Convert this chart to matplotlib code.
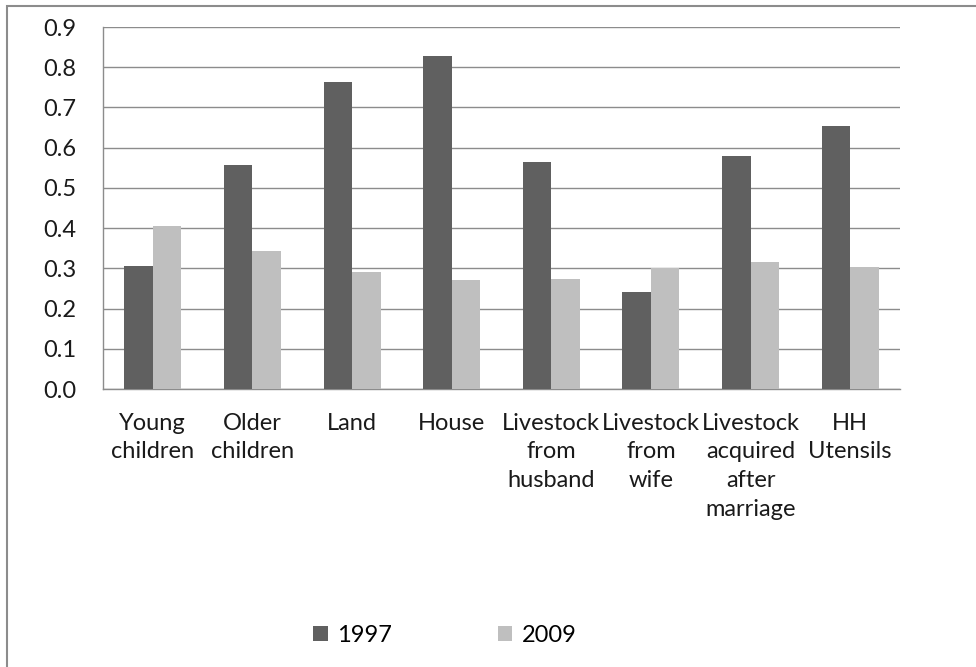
import numpy as np
import matplotlib.pyplot as plt
from matplotlib.patches import Rectangle

plt.rcParams['font.family'] = ['Lato', 'DejaVu Sans']

# ----------------------------------------------------------------------
#   Data
# ----------------------------------------------------------------------
categories = ['Young\nchildren', 'Older\nchildren', 'Land', 'House',
              'Livestock\nfrom\nhusband', 'Livestock\nfrom\nwife',
              'Livestock\nacquired\nafter\nmarriage', 'HH\nUtensils']
vals_1997 = [0.306, 0.557, 0.764, 0.828, 0.565, 0.241, 0.580, 0.654]
vals_2009 = [0.405, 0.343, 0.291, 0.271, 0.274, 0.301, 0.316, 0.303]
yticks = [0.0, 0.1, 0.2, 0.3, 0.4, 0.5, 0.6, 0.7, 0.8, 0.9]

dark = '#606060'
light = '#bfbfbf'
grid_c = '#8c8c8c'
fs = 17

fig = plt.figure(figsize=(9.76, 6.67), dpi=100)
ax = fig.add_axes([103/976, 1 - 389/667, (900 - 103)/976, (389 - 27)/667])

x = np.arange(len(categories))
w = 0.286
ax.bar(x - w/2, vals_1997, width=w, color=dark, label='1997', zorder=3)
ax.bar(x + w/2, vals_2009, width=w, color=light, label='2009', zorder=3)

ax.set_xlim(-0.5, len(categories) - 0.5)
ax.set_ylim(0, 0.9)
ax.set_yticks(yticks)
ax.set_yticklabels(['%.1f' % t for t in yticks])
ax.yaxis.grid(True, color=grid_c, linewidth=1.0, zorder=0)
ax.set_xticks(x)
ax.set_xticklabels(categories, linespacing=1.46)
ax.tick_params(axis='both', length=0, labelsize=fs, colors='#1a1a1a')
ax.tick_params(axis='x', pad=17)
ax.tick_params(axis='y', pad=43)
for lbl in ax.get_yticklabels():
    lbl.set_horizontalalignment('left')
for lbl in ax.get_xticklabels():
    lbl.set_verticalalignment('top')

for side in ['top', 'right']:
    ax.spines[side].set_visible(False)
for side in ['left', 'bottom']:
    ax.spines[side].set_color(grid_c)
    ax.spines[side].set_linewidth(1.0)

leg = fig.legend(loc='center', bbox_to_anchor=(445/976, 1 - 635/667), ncol=2,
                 frameon=False, fontsize=fs, handlelength=0.6, handleheight=0.6,
                 columnspacing=4.5, handletextpad=0.4)

# chart frame
fig.patches.append(Rectangle((7/976, -0.1), 1.2, 1 - 6/667 + 0.1,
                             transform=fig.transFigure, fill=False,
                             edgecolor='#8c8c8c', linewidth=1.5, clip_on=False))

fig.savefig('out.png', dpi=100)
